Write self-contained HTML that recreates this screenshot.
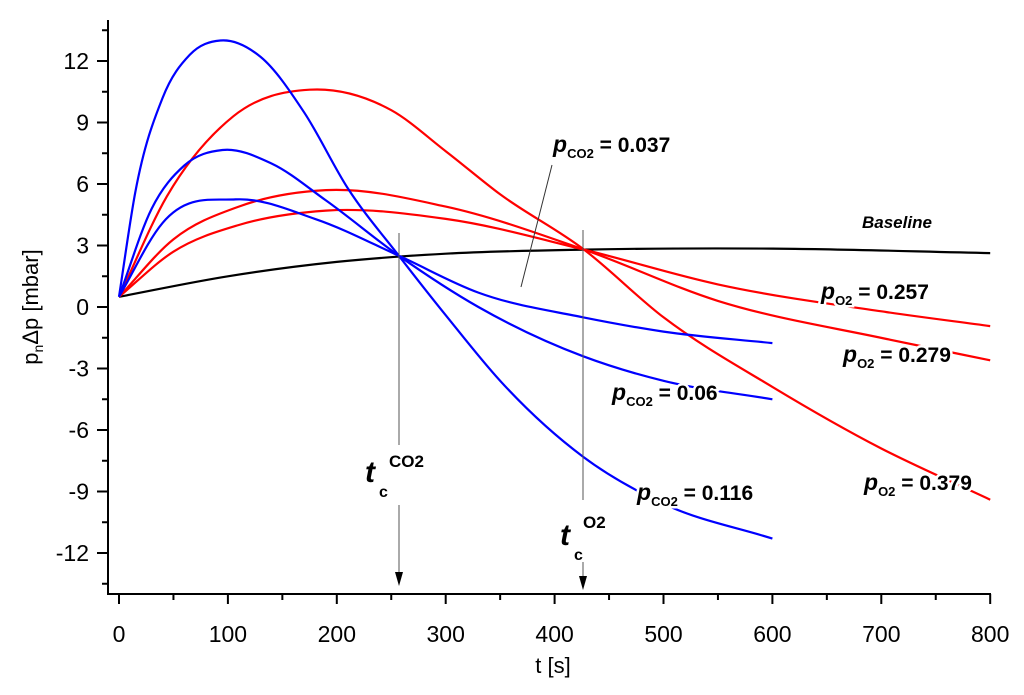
<!DOCTYPE html>
<html><head><meta charset="utf-8"><style>
html,body{margin:0;padding:0;background:#fff;}
svg{display:block;font-family:"Liberation Sans",Arial,sans-serif;}
.lbl{font-weight:bold;font-size:21px;paint-order:stroke;stroke:#fff;stroke-width:5px;}
</style></head><body>
<svg id="chart" width="1024" height="695" viewBox="0 0 1024 695">
<g id="axes"></g>
<g id="series"></g>
<g id="annot">
  <line x1="399" y1="233" x2="399" y2="445" stroke="#555" stroke-width="1"/>
  <line x1="399" y1="505" x2="399" y2="575" stroke="#555" stroke-width="1"/>
  <polygon points="395,572 403,572 399,586" fill="#000"/>
  <text x="365" y="482" font-size="30" font-weight="bold" font-style="italic">t</text>
  <text x="379" y="497" font-size="16" font-weight="bold">c</text>
  <text x="389" y="467" font-size="17" font-weight="bold">CO2</text>
  <line x1="583" y1="230" x2="583" y2="500" stroke="#555" stroke-width="1"/>
  <line x1="583" y1="562" x2="583" y2="578" stroke="#555" stroke-width="1"/>
  <polygon points="579,576 587,576 583,590" fill="#000"/>
  <text x="560" y="545" font-size="30" font-weight="bold" font-style="italic">t</text>
  <text x="574" y="560" font-size="16" font-weight="bold">c</text>
  <text x="583" y="528" font-size="17" font-weight="bold">O2</text>
  <line x1="552" y1="165" x2="521" y2="287" stroke="#333" stroke-width="1"/>
  <text class="lbl" x="553" y="152"><tspan font-style="italic" font-size="23">p</tspan><tspan font-size="13" dy="6">CO2</tspan><tspan dy="-6"> = 0.037</tspan></text>
  <text x="862" y="228" font-size="17" font-weight="bold" font-style="italic">Baseline</text>
  <text class="lbl" x="821" y="299"><tspan font-style="italic" font-size="23">p</tspan><tspan font-size="13" dy="6">O2</tspan><tspan dy="-6"> = 0.257</tspan></text>
  <text class="lbl" x="843" y="362"><tspan font-style="italic" font-size="23">p</tspan><tspan font-size="13" dy="6">O2</tspan><tspan dy="-6"> = 0.279</tspan></text>
  <text class="lbl" x="864" y="490"><tspan font-style="italic" font-size="23">p</tspan><tspan font-size="13" dy="6">O2</tspan><tspan dy="-6"> = 0.379</tspan></text>
  <text class="lbl" x="612" y="400"><tspan font-style="italic" font-size="23">p</tspan><tspan font-size="13" dy="6">CO2</tspan><tspan dy="-6"> = 0.06</tspan></text>
  <text class="lbl" x="637" y="500"><tspan font-style="italic" font-size="23">p</tspan><tspan font-size="13" dy="6">CO2</tspan><tspan dy="-6"> = 0.116</tspan></text>
</g>
</svg>
<script>
const xTicks=[0,100,200,300,400,500,600,700,800];
const yTicks=[-12,-9,-6,-3,0,3,6,9,12];
const tBlue=[0,15,40,65,93,130,170,210,257,300,350,426,500,600];
const vBlue116=[0.5,5.6,10.2,12.3,13.0,12.2,9.5,5.8,2.5,-0.4,-3.6,-7.3,-9.6,-11.3];
const tBlue2=[0,30,60,95,140,190,257,330,426,500,600];
const vBlue06=[0.5,4.8,6.9,7.66,7.0,5.2,2.5,0.0,-2.4,-3.6,-4.5];
const tBlue3=[0,40,107,180,257,330,426,500,600];
const vBlue037=[0.5,4.1,5.25,4.3,2.5,0.7,-0.5,-1.2,-1.76];
const tRed=[0,44,105,175,250,300,350,427,500,600,700,800];
const vRed379=[0.5,5.4,9.3,10.6,9.6,7.6,5.5,2.8,-0.5,-3.9,-6.9,-9.4];
const tRed2=[0,50,110,190,300,427,550,705,800];
const vRed279=[0.5,3.3,4.9,5.7,4.9,2.8,0.3,-1.56,-2.6];
const vRed257=[0.5,2.7,4.0,4.7,4.3,2.8,1.1,-0.25,-0.93];
const tBase=[0,100,200,300,427,600,800];
const vBase=[0.5,1.5,2.2,2.6,2.8,2.85,2.63];

const X=t=>119+t*1.089, Y=v=>307-v*20.5;
const NS='http://www.w3.org/2000/svg';
const ax=document.getElementById('axes'), sg=document.getElementById('series');
function mk(tag,at,par){const e=document.createElementNS(NS,tag);for(const k in at)e.setAttribute(k,at[k]);par.appendChild(e);return e;}
let e;
e=mk('line',{x1:108,y1:20,x2:108,y2:594,stroke:'#000','stroke-width':2},ax);


e=mk('line',{x1:107,y1:594,x2:991,y2:594,stroke:'#000','stroke-width':2},ax);


xTicks.forEach(t=>{
  e=mk('line',{x1:X(t),y1:594,x2:X(t),y2:604,stroke:'#000','stroke-width':2},ax);
  
  
  if(t<800){e=mk('line',{x1:X(t+50),y1:594,x2:X(t+50),y2:600,stroke:'#000','stroke-width':2},ax);
  
  }
  e=mk('text',{x:X(t),y:642,'font-size':23,'text-anchor':'middle'},ax);e.textContent=t;
  
  
});
yTicks.forEach(v=>{
  e=mk('line',{x1:97,y1:Y(v),x2:108,y2:Y(v),stroke:'#000','stroke-width':2},ax);
  
  
  e=mk('line',{x1:102,y1:Y(v+1.5),x2:108,y2:Y(v+1.5),stroke:'#000','stroke-width':2},ax);
  
  
  e=mk('text',{x:89,y:Y(v)+8,'font-size':23,'text-anchor':'end'},ax);e.textContent=v;
  
  
});
e=mk('line',{x1:102,y1:Y(-13.5),x2:108,y2:Y(-13.5),stroke:'#000','stroke-width':2},ax);


e=mk('text',{x:553,y:673,'font-size':22,'text-anchor':'middle'},ax);e.textContent='t [s]';


e=mk('text',{x:0,y:0,'font-size':22,'text-anchor':'middle',transform:'translate(38,307) rotate(-90)'},ax);
e.innerHTML='p<tspan font-size="14" dy="5">n</tspan><tspan dy="-5">Δp [mbar]</tspan>';



// cubic Hermite in t with weighted three-point slopes (handles uneven spacing)
function path(ts,vs){
  const n=ts.length, m=[];
  for(let i=0;i<n;i++){
    if(i===0) m.push((vs[1]-vs[0])/(ts[1]-ts[0]));
    else if(i===n-1) m.push((vs[i]-vs[i-1])/(ts[i]-ts[i-1]));
    else{
      const h0=ts[i]-ts[i-1],h1=ts[i+1]-ts[i];
      const d0=(vs[i]-vs[i-1])/h0,d1=(vs[i+1]-vs[i])/h1;
      m.push((d0*h1+d1*h0)/(h0+h1));
    }
  }
  let d='M'+X(ts[0]).toFixed(1)+','+Y(vs[0]).toFixed(1);
  for(let i=0;i<n-1;i++){
    const h=ts[i+1]-ts[i];
    const c1t=ts[i]+h/3,c1v=vs[i]+m[i]*h/3;
    const c2t=ts[i+1]-h/3,c2v=vs[i+1]-m[i+1]*h/3;
    d+=`C${X(c1t).toFixed(1)},${Y(c1v).toFixed(1)} ${X(c2t).toFixed(1)},${Y(c2v).toFixed(1)} ${X(ts[i+1]).toFixed(1)},${Y(vs[i+1]).toFixed(1)}`;
  }
  return d;
}
function line(ts,vs,col,name){
  const el=mk('path',{d:path(ts,vs),fill:'none',stroke:col,'stroke-width':2.2},sg);
  
  
}
line(tBase,vBase,'#000','line-baseline');
line(tRed,vRed379,'#ff0000','line-po2-0379');
line(tRed2,vRed279,'#ff0000','line-po2-0279');
line(tRed2,vRed257,'#ff0000','line-po2-0257');
line(tBlue,vBlue116,'#0000ff','line-pco2-0116');
line(tBlue2,vBlue06,'#0000ff','line-pco2-006');
line(tBlue3,vBlue037,'#0000ff','line-pco2-0037');
document.getElementById('chart').appendChild(document.getElementById('annot'));
</script>
</body></html>
